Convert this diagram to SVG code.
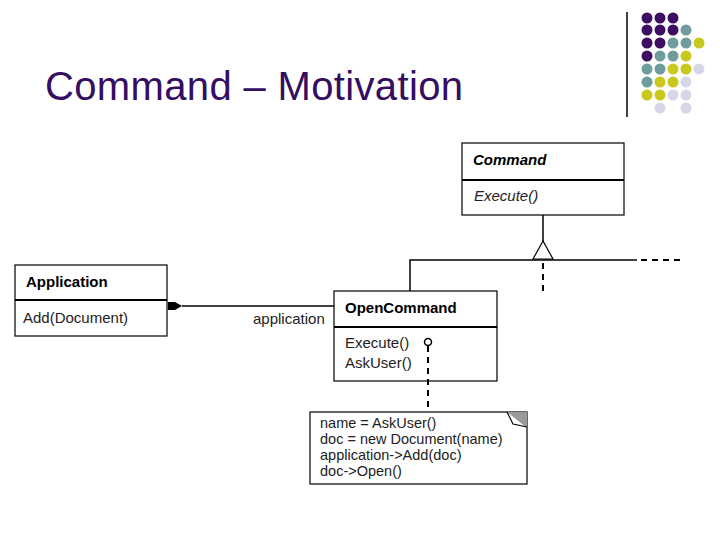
<svg xmlns="http://www.w3.org/2000/svg" width="720" height="540" viewBox="0 0 720 540">
<style>
.box{fill:#fff;stroke:#000;stroke-width:1.2}
.div{stroke:#000;stroke-width:2}
.ln{stroke:#000;stroke-width:1.5;fill:none}
.dash{stroke:#000;stroke-width:2;stroke-dasharray:6,5;fill:none}
.t{font-family:"Liberation Sans",Arial,sans-serif;font-size:15px;fill:#222}
.n{font-size:14.5px}
.b{font-weight:bold;fill:#000}
.i{font-style:italic}
.P{fill:#3d0f62}.T{fill:#6f9c9c}.Y{fill:#c8c81e}.L{fill:#d6d6e6}
</style>
<rect width="720" height="540" fill="#fff"/>
<text x="45" y="100" font-family="'Liberation Sans',Arial,sans-serif" font-size="40" fill="#330e62" textLength="418">Command – Motivation</text>
<line x1="627" y1="12" x2="627" y2="117" stroke="#000" stroke-width="1.5"/>
<g id="dots">
<circle class="P" cx="647" cy="18" r="5.5"/><circle class="P" cx="660" cy="18" r="5.5"/><circle class="P" cx="673" cy="18" r="5.5"/>
<circle class="P" cx="647" cy="30" r="5.5"/><circle class="P" cx="660" cy="30" r="5.5"/><circle class="P" cx="673" cy="30" r="5.5"/><circle class="T" cx="686" cy="30" r="5.5"/>
<circle class="P" cx="647" cy="43" r="5.5"/><circle class="P" cx="660" cy="43" r="5.5"/><circle class="T" cx="673" cy="43" r="5.5"/><circle class="T" cx="686" cy="43" r="5.5"/><circle class="Y" cx="699" cy="43" r="5.5"/>
<circle class="P" cx="647" cy="56" r="5.5"/><circle class="T" cx="660" cy="56" r="5.5"/><circle class="T" cx="673" cy="56" r="5.5"/><circle class="Y" cx="686" cy="56" r="5.5"/>
<circle class="T" cx="647" cy="69" r="5.5"/><circle class="T" cx="660" cy="69" r="5.5"/><circle class="Y" cx="673" cy="69" r="5.5"/><circle class="Y" cx="686" cy="69" r="5.5"/><circle class="L" cx="699" cy="69" r="5.5"/>
<circle class="T" cx="647" cy="82" r="5.5"/><circle class="Y" cx="660" cy="82" r="5.5"/><circle class="Y" cx="673" cy="82" r="5.5"/><circle class="L" cx="686" cy="82" r="5.5"/>
<circle class="Y" cx="647" cy="95" r="5.5"/><circle class="Y" cx="660" cy="95" r="5.5"/><circle class="L" cx="673" cy="95" r="5.5"/><circle class="L" cx="686" cy="95" r="5.5"/>
<circle class="L" cx="660" cy="108" r="5.5"/><circle class="L" cx="686" cy="108" r="5.5"/>
</g>
<g id="command">
<rect class="box" x="462" y="143" width="162" height="72"/>
<line class="div" x1="462" y1="180" x2="624" y2="180"/>
<text class="t b i" x="473" y="165">Command</text>
<text class="t i" x="474" y="201">Execute()</text>
</g>
<g id="application">
<rect class="box" x="15" y="265" width="152" height="71"/>
<line class="div" x1="15" y1="300" x2="167" y2="300"/>
<text class="t b" x="26" y="287">Application</text>
<text class="t" x="23" y="323">Add(Document)</text>
</g>
<g id="opencommand">
<rect class="box" x="334" y="291" width="163" height="90"/>
<line class="div" x1="334" y1="327" x2="497" y2="327"/>
<text class="t b" x="345" y="313">OpenCommand</text>
<text class="t" x="345" y="348">Execute()</text>
<text class="t" x="345" y="368">AskUser()</text>
</g>
<g id="note">
<rect class="box" x="310" y="412" width="217" height="72"/>
<polygon points="507,412 527,412 527,428" fill="#999"/>
<polyline points="507,412 513,424 527,427" fill="none" stroke="#000" stroke-width="1.2"/>
<text class="t n" x="320" y="428">name = AskUser()</text>
<text class="t n" x="320" y="444">doc = new Document(name)</text>
<text class="t n" x="320" y="460">application-&gt;Add(doc)</text>
<text class="t n" x="320" y="476">doc-&gt;Open()</text>
</g>
<g id="connectors">
<line class="ln" x1="543" y1="215" x2="543" y2="242"/>
<polygon points="543,241 533,259 553,259" fill="#fff" stroke="#000" stroke-width="1.2"/>
<polyline class="ln" points="410,291 410,260 637,260"/>
<line class="dash" x1="641" y1="260" x2="684" y2="260" stroke-width="1"/>
<line class="dash" x1="543" y1="263" x2="543" y2="292"/>
<line class="ln" x1="334" y1="306" x2="182" y2="306"/>
<polygon points="168,302 175,302 182,306 175,310 168,310" fill="#000"/>
<text class="t" x="253" y="324" fill="#333">application</text>
<line class="dash" x1="428" y1="346" x2="428" y2="411" stroke-width="1.2"/>
<circle cx="428" cy="342" r="3.5" fill="#fff" stroke="#000" stroke-width="1.5"/>
</g>
</svg>
